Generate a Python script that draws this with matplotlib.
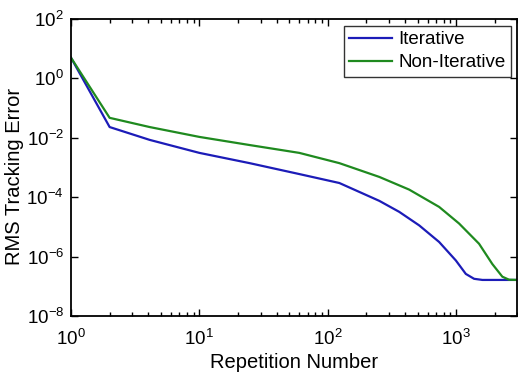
import matplotlib
matplotlib.use("Agg")
import matplotlib.pyplot as plt
from matplotlib.ticker import FixedLocator, NullLocator, NullFormatter

plt.rcParams['font.family'] = ['Liberation Sans', 'DejaVu Sans']
plt.rcParams['mathtext.default'] = 'regular'

# Data (repetition number, RMS tracking error)
iter_x = [1, 2, 4.1, 10, 24.6, 60, 123, 252, 360, 515, 736, 993, 1188, 1378, 1600, 3000]
iter_y = [5.0, 2.3e-2, 8.5e-3, 3.1e-3, 1.4e-3, 6.0e-4, 3.0e-4, 7.5e-5,
          3.2e-5, 1.12e-5, 3.1e-6, 7.4e-7, 2.6e-7, 1.78e-7, 1.63e-7, 1.63e-7]

noniter_x = [1, 2, 4.1, 10, 24.6, 60, 123, 252, 430, 736, 1052, 1506, 1911,
             2286, 2578, 3000]
noniter_y = [5.0, 4.7e-2, 2.3e-2, 1.07e-2, 5.7e-3, 3.1e-3, 1.4e-3, 4.8e-4,
             1.8e-4, 4.7e-5, 1.3e-5, 2.7e-6, 5.6e-7, 2.1e-7, 1.66e-7, 1.63e-7]

labels = ["Iterative", "Non-Iterative"]
yticks = [1e-8, 1e-6, 1e-4, 1e-2, 1e0, 1e2]

fig = plt.figure(figsize=(5.18, 3.73), dpi=100)
ax = fig.add_axes([0.137, 0.153, 0.862, 0.796])

ax.plot(iter_x, iter_y, color='#1c1cb8', lw=1.6, label=labels[0])
ax.plot(noniter_x, noniter_y, color='#1f8a1f', lw=1.6, label=labels[1])

ax.set_xscale('log')
ax.set_yscale('log')
ax.set_xlim(1, 3000)
ax.set_ylim(1e-8, 1e2)

ax.yaxis.set_major_locator(FixedLocator(yticks))
ax.yaxis.set_minor_locator(NullLocator())
ax.xaxis.set_minor_formatter(NullFormatter())

ax.tick_params(which='both', direction='in', top=True, right=True, labelsize=13.5)
ax.tick_params(axis='x', which='major', pad=9)
ax.tick_params(axis='y', which='major', pad=5)
ax.tick_params(which='major', length=5, width=1)
ax.tick_params(which='minor', length=3, width=1)
for s in ax.spines.values():
    s.set_linewidth(1.3)

ax.set_xlabel('Repetition Number', fontsize=14.5, labelpad=3)
ax.set_ylabel('RMS Tracking Error', fontsize=14.5)
ax.yaxis.set_label_coords(-0.105, 0.47)

leg = ax.legend(loc='upper right', fontsize=13.5, frameon=True, fancybox=False,
                edgecolor='black', handlelength=2.3, borderpad=0.3,
                labelspacing=0.3, handletextpad=0.3, borderaxespad=0.35)
leg.get_frame().set_linewidth(1.0)

fig.savefig('out.png', dpi=100)
